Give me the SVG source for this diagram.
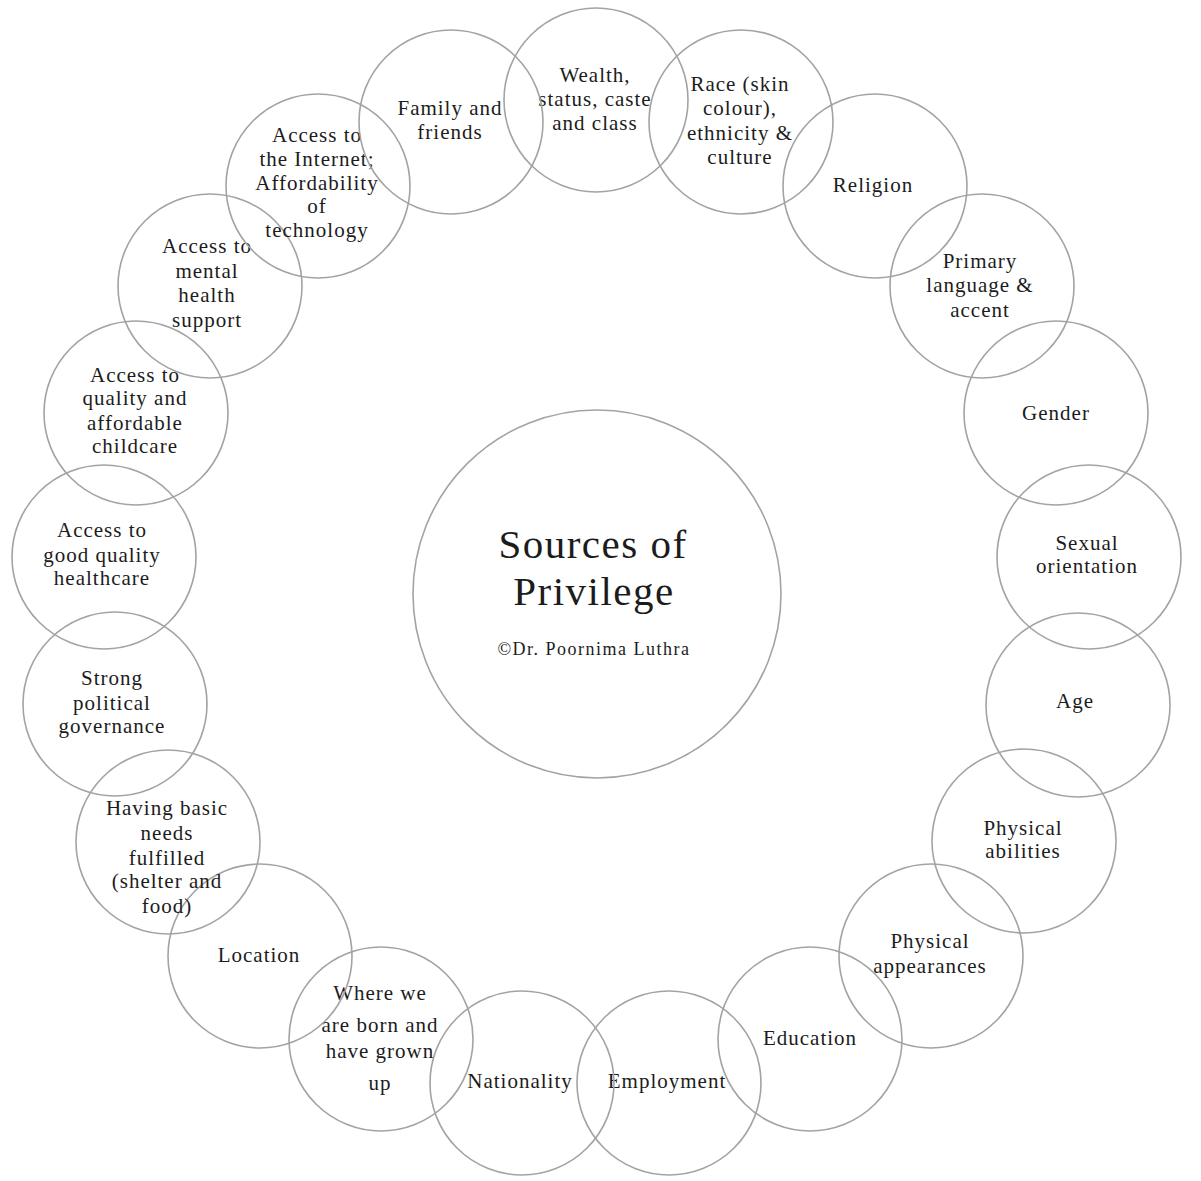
<svg xmlns="http://www.w3.org/2000/svg" width="1201" height="1181" viewBox="0 0 1201 1181">
<style>
.c{fill:none;stroke:#a3a3a3;stroke-width:1.6}
.t{font-family:"Liberation Serif","Times New Roman",serif;font-size:21px;letter-spacing:1px;fill:#1c1c1c;text-anchor:middle}
.title{font-family:"Liberation Serif","Times New Roman",serif;font-size:41px;letter-spacing:1.5px;fill:#1c1c1c;text-anchor:middle}
.sub{font-family:"Liberation Serif","Times New Roman",serif;font-size:18px;letter-spacing:1.5px;fill:#1c1c1c;text-anchor:middle}
</style>
<rect width="1201" height="1181" fill="#ffffff"/>
<g id="center">
<circle class="c" cx="597" cy="594" r="184"/>
<text class="title" x="593" y="558">Sources of</text>
<text class="title" x="594" y="605">Privilege</text>
<text class="sub" x="594" y="655">©Dr. Poornima Luthra</text>
</g>
<g id="wealth">
<circle class="c" cx="596" cy="100" r="92"/>
<text class="t" x="595" y="82">Wealth,</text>
<text class="t" x="595" y="106">status, caste</text>
<text class="t" x="595" y="130">and class</text>
</g>
<g id="race">
<circle class="c" cx="741" cy="122" r="92"/>
<text class="t" x="740" y="91">Race (skin</text>
<text class="t" x="740" y="115">colour),</text>
<text class="t" x="740" y="140">ethnicity &amp;</text>
<text class="t" x="740" y="164">culture</text>
</g>
<g id="religion">
<circle class="c" cx="875" cy="186" r="92"/>
<text class="t" x="873" y="192">Religion</text>
</g>
<g id="language">
<circle class="c" cx="982" cy="286" r="92"/>
<text class="t" x="980" y="268">Primary</text>
<text class="t" x="980" y="292">language &amp;</text>
<text class="t" x="980" y="317">accent</text>
</g>
<g id="gender">
<circle class="c" cx="1056" cy="413" r="92"/>
<text class="t" x="1056" y="420">Gender</text>
</g>
<g id="sexual">
<circle class="c" cx="1089" cy="557" r="92"/>
<text class="t" x="1087" y="550">Sexual</text>
<text class="t" x="1087" y="573">orientation</text>
</g>
<g id="age">
<circle class="c" cx="1078" cy="705" r="92"/>
<text class="t" x="1075" y="708">Age</text>
</g>
<g id="abilities">
<circle class="c" cx="1024" cy="841" r="92"/>
<text class="t" x="1023" y="835">Physical</text>
<text class="t" x="1023" y="858">abilities</text>
</g>
<g id="appearances">
<circle class="c" cx="931" cy="956" r="92"/>
<text class="t" x="930" y="948">Physical</text>
<text class="t" x="930" y="973">appearances</text>
</g>
<g id="education">
<circle class="c" cx="810" cy="1039" r="92"/>
<text class="t" x="810" y="1045">Education</text>
</g>
<g id="employment">
<circle class="c" cx="669" cy="1083" r="92"/>
<text class="t" x="667" y="1088">Employment</text>
</g>
<g id="nationality">
<circle class="c" cx="522" cy="1083" r="92"/>
<text class="t" x="520" y="1088">Nationality</text>
</g>
<g id="born">
<circle class="c" cx="381" cy="1039" r="92"/>
<text class="t" x="380" y="1000">Where we</text>
<text class="t" x="380" y="1032">are born and</text>
<text class="t" x="380" y="1058">have grown</text>
<text class="t" x="380" y="1090">up</text>
</g>
<g id="location">
<circle class="c" cx="260" cy="956" r="92"/>
<text class="t" x="259" y="962">Location</text>
</g>
<g id="basic-needs">
<circle class="c" cx="168" cy="842" r="92"/>
<text class="t" x="167" y="815">Having basic</text>
<text class="t" x="167" y="840">needs</text>
<text class="t" x="167" y="865">fulfilled</text>
<text class="t" x="167" y="888">(shelter and</text>
<text class="t" x="167" y="913">food)</text>
</g>
<g id="governance">
<circle class="c" cx="115" cy="704" r="92"/>
<text class="t" x="112" y="685">Strong</text>
<text class="t" x="112" y="710">political</text>
<text class="t" x="112" y="733">governance</text>
</g>
<g id="healthcare">
<circle class="c" cx="104" cy="557" r="92"/>
<text class="t" x="102" y="537">Access to</text>
<text class="t" x="102" y="562">good quality</text>
<text class="t" x="102" y="585">healthcare</text>
</g>
<g id="childcare">
<circle class="c" cx="136" cy="413" r="92"/>
<text class="t" x="135" y="382">Access to</text>
<text class="t" x="135" y="405">quality and</text>
<text class="t" x="135" y="430">affordable</text>
<text class="t" x="135" y="453">childcare</text>
</g>
<g id="mental-health">
<circle class="c" cx="210" cy="286" r="92"/>
<text class="t" x="207" y="253">Access to</text>
<text class="t" x="207" y="278">mental</text>
<text class="t" x="207" y="302">health</text>
<text class="t" x="207" y="327">support</text>
</g>
<g id="internet">
<circle class="c" cx="318" cy="186" r="92"/>
<text class="t" x="317" y="142">Access to</text>
<text class="t" x="317" y="166">the Internet;</text>
<text class="t" x="317" y="190">Affordability</text>
<text class="t" x="317" y="213">of</text>
<text class="t" x="317" y="237">technology</text>
</g>
<g id="family">
<circle class="c" cx="451" cy="122" r="92"/>
<text class="t" x="450" y="115">Family and</text>
<text class="t" x="450" y="139">friends</text>
</g>
</svg>
